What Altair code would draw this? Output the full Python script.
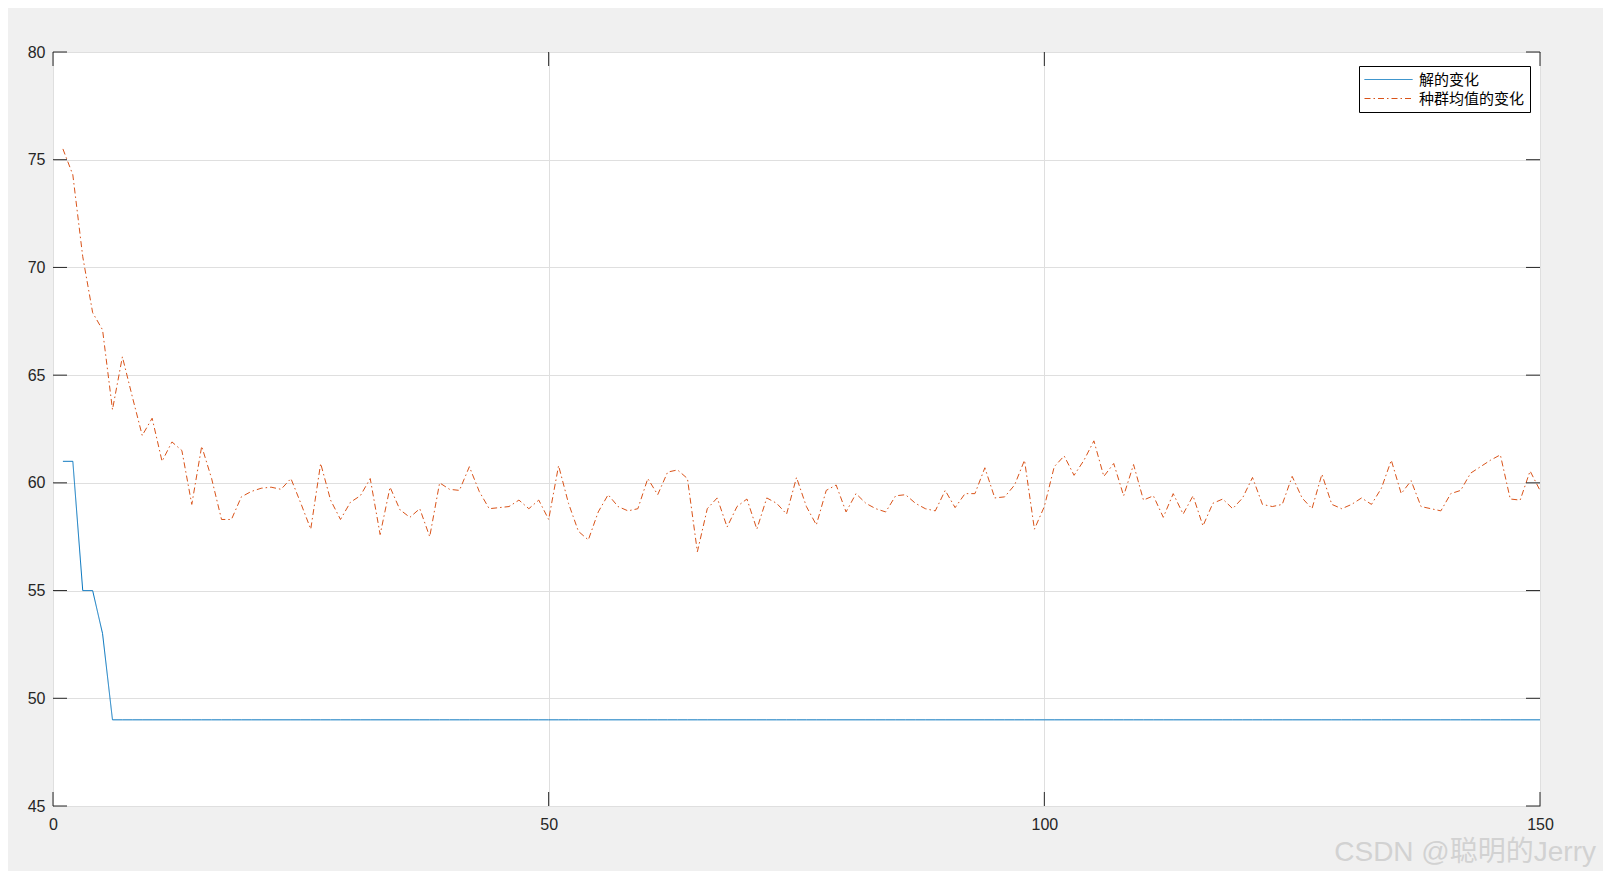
import altair as alt
import pandas as pd

# ---------------- data ----------------
iterations = list(range(1, 151))

best_values = [61, 61, 55, 55, 53] + [49] * 145

mean_values = [
    75.5, 74.3, 70.5, 67.9, 67.1, 63.4, 65.85, 64.0, 62.2, 63.0,
    61.0, 61.9, 61.5, 59.0, 61.7, 60.2, 58.3, 58.3, 59.35, 59.6,
    59.75, 59.8, 59.7, 60.2, 59.05, 57.85, 60.9, 59.2, 58.3, 59.1,
    59.4, 60.2, 57.6, 59.8, 58.75, 58.4, 58.8, 57.5, 60.0, 59.7,
    59.65, 60.75, 59.6, 58.8, 58.85, 58.9, 59.2, 58.8, 59.2, 58.3,
    60.8, 59.05, 57.75, 57.35, 58.65, 59.45, 58.9, 58.7, 58.8, 60.2,
    59.45, 60.5, 60.6, 60.2, 56.8, 58.8, 59.3, 57.95, 58.9, 59.25,
    57.85, 59.3, 59.05, 58.55, 60.25, 58.9, 58.05, 59.65, 59.9, 58.65,
    59.5, 59.05, 58.8, 58.65, 59.4, 59.45, 59.05, 58.8, 58.7, 59.65,
    58.85, 59.5, 59.5, 60.7, 59.3, 59.35, 59.9, 61.05, 57.85, 58.9,
    60.75, 61.25, 60.35, 61.05, 61.95, 60.3, 60.9, 59.4, 60.85, 59.2,
    59.4, 58.4, 59.5, 58.55, 59.4, 58.0, 59.05, 59.25, 58.8, 59.3,
    60.25, 59.0, 58.9, 59.0, 60.3, 59.3, 58.8, 60.4, 59.0, 58.8,
    59.0, 59.3, 59.0, 59.75, 61.05, 59.5, 60.1, 58.9, 58.8, 58.7,
    59.5, 59.65, 60.45, 60.75, 61.05, 61.3, 59.25, 59.2, 60.55, 59.65,
]

series_names = ["解的变化", "种群均值的变化"]
series_colors = ["#0072BD", "#D95319"]
series_dashes = [[1, 0], [6, 3, 1.5, 3]]

x_ticks = [0, 50, 100, 150]
y_ticks = [45, 50, 55, 60, 65, 70, 75, 80]
watermark = ["CSDN @聪明的Jerry"]

# ---------------- layout ----------------
W, H = 1487, 754
TICK = 14
AXIS_FONT = "Liberation Sans"
AXIS_COLOR = "#262626"

df = pd.DataFrame({
    "iter": iterations + iterations,
    "value": best_values + mean_values,
    "series": [series_names[0]] * len(iterations) + [series_names[1]] * len(iterations),
})

legend = alt.Legend(
    title=None,
    orient="none",
    legendX=1306,
    legendY=14,
    fillColor="white",
    strokeColor="black",
    padding=5,
    symbolType="M-3,0H3",
    symbolSize=256,
    symbolStrokeWidth=1,
    symbolOffset=16,
    labelOffset=22,
    labelFont="Noto Sans CJK SC",
    labelFontSize=15,
    labelColor="#000000",
    rowPadding=2,
)

x_enc = alt.X(
    "iter:Q",
    scale=alt.Scale(domain=[0, 150], nice=False, zero=False),
    axis=alt.Axis(
        values=x_ticks, title=None, ticks=False, domain=False,
        grid=True, gridColor="#dfdfdf", gridWidth=1,
        labelFont=AXIS_FONT, labelFontSize=16, labelColor=AXIS_COLOR,
        labelPadding=10, labelFlush=False,
    ),
)
y_enc = alt.Y(
    "value:Q",
    scale=alt.Scale(domain=[45, 80], nice=False, zero=False),
    axis=alt.Axis(
        values=y_ticks, title=None, ticks=False, domain=False,
        grid=True, gridColor="#dfdfdf", gridWidth=1,
        labelFont=AXIS_FONT, labelFontSize=16, labelColor=AXIS_COLOR,
        labelPadding=8, labelFlush=False,
    ),
)

lines = alt.Chart(df).mark_line(strokeWidth=1).encode(
    x=x_enc,
    y=y_enc,
    color=alt.Color("series:N", scale=alt.Scale(domain=series_names, range=series_colors), legend=legend),
    strokeDash=alt.StrokeDash("series:N", scale=alt.Scale(domain=series_names, range=series_dashes), legend=legend),
    order=alt.Order("iter:Q"),
)

ytick_df = pd.DataFrame({"v": y_ticks})
xtick_df = pd.DataFrame({"v": x_ticks})

ticks_left = alt.Chart(ytick_df).mark_rule(color=AXIS_COLOR, strokeWidth=1).encode(
    y=alt.Y("v:Q"), x=alt.value(0), x2=alt.value(TICK))
ticks_right = alt.Chart(ytick_df).mark_rule(color=AXIS_COLOR, strokeWidth=1).encode(
    y=alt.Y("v:Q"), x=alt.value(W - TICK), x2=alt.value(W))
ticks_bottom = alt.Chart(xtick_df).mark_rule(color=AXIS_COLOR, strokeWidth=1).encode(
    x=alt.X("v:Q"), y=alt.value(H - TICK), y2=alt.value(H))
ticks_top = alt.Chart(xtick_df).mark_rule(color=AXIS_COLOR, strokeWidth=1).encode(
    x=alt.X("v:Q"), y=alt.value(0), y2=alt.value(TICK))

wm = alt.Chart(pd.DataFrame({"t": watermark})).mark_text(
    align="right", baseline="alphabetic", fontSize=28,
    font="Liberation Sans, Noto Sans CJK SC", color="#d2d2d2",
).encode(text="t:N", x=alt.value(1543), y=alt.value(809))

chart = alt.layer(lines, ticks_left, ticks_right, ticks_bottom, ticks_top, wm).properties(
    width=W,
    height=H,
    padding={"left": 45, "top": 44, "right": 63, "bottom": 65},
    autosize=alt.AutoSizeParams(type="none"),
    background="#f0f0f0",
).configure_view(
    fill="white", stroke=AXIS_COLOR, strokeWidth=1,
)

chart.save("out.html", embed_options={"renderer": "svg", "actions": False})
